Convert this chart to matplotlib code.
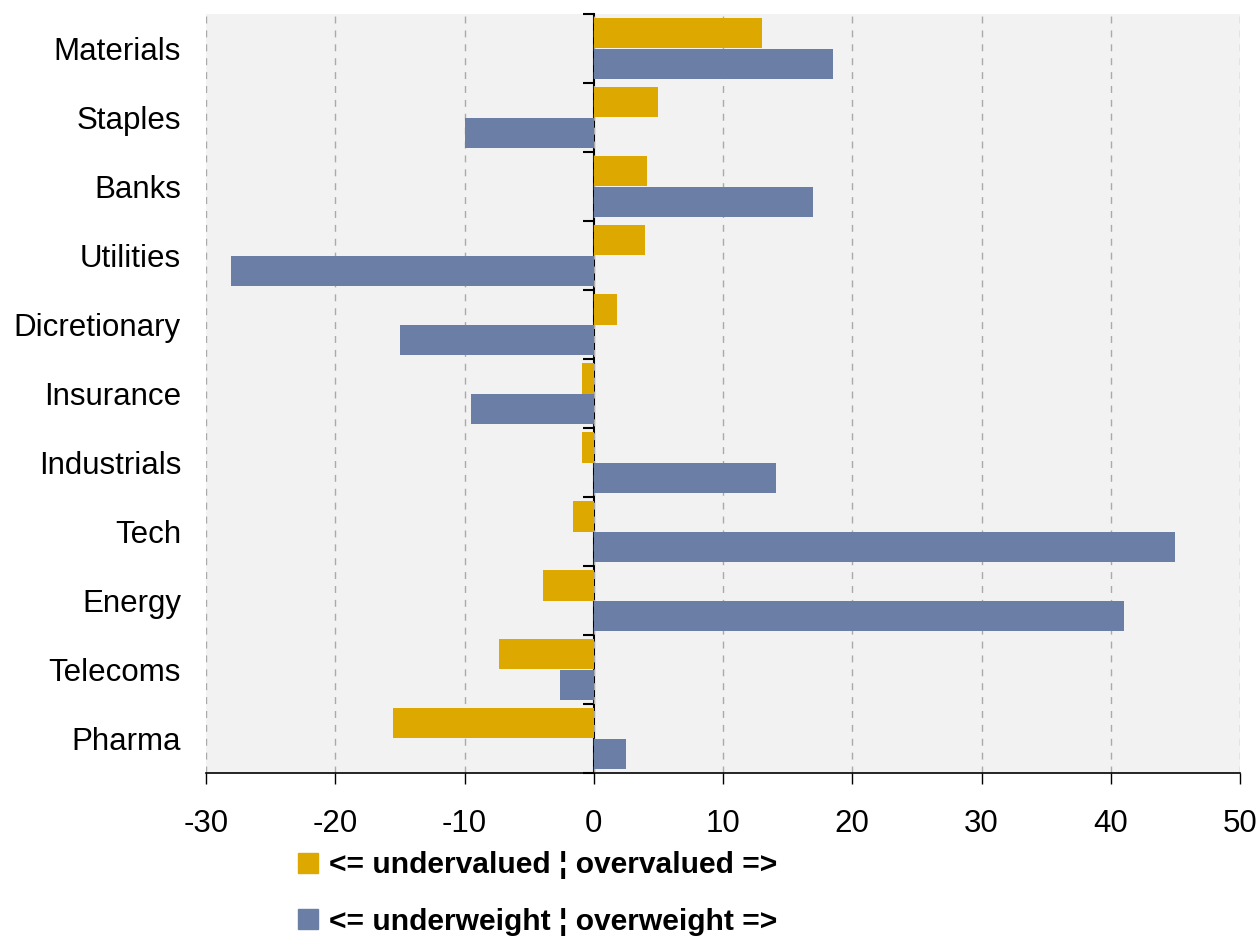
import matplotlib
matplotlib.use("Agg")
import matplotlib.pyplot as plt
from matplotlib.lines import Line2D
import numpy as np

plt.rcParams['font.family'] = ['Liberation Sans', 'DejaVu Sans']

sectors = ['Materials', 'Staples', 'Banks', 'Utilities', 'Dicretionary', 'Insurance',
           'Industrials', 'Tech', 'Energy', 'Telecoms', 'Pharma']
valuation = [13.0, 5.0, 4.1, 4.0, 1.8, -0.9, -0.9, -1.6, -3.9, -7.3, -15.5]
positioning = [18.5, -10.0, 17.0, -28.1, -15.0, -9.5, 14.1, 45.0, 41.0, -2.6, 2.5]
xticks = [-30, -20, -10, 0, 10, 20, 30, 40, 50]

label_val = '<= undervalued \u00a6 overvalued =>'
label_pos = '<= underweight \u00a6 overweight =>'
c_val = '#dda800'
c_pos = '#6b7fa6'

fig = plt.figure(figsize=(12.6, 9.36), dpi=100)
ax = fig.add_axes([206/1260, 1-773/936, (1240-206)/1260, (773-14)/936])
ax.set_facecolor('#f2f2f2')

y = np.arange(len(sectors))
h = 0.44
ax.barh(y - h/2, valuation, height=h, color=c_val, zorder=3)
ax.barh(y + h/2, positioning, height=h, color=c_pos, zorder=3)

ax.set_xlim(-30, 50)
ax.set_ylim(len(sectors) - 0.5, -0.5)
ax.set_xticks(xticks)
ax.set_xticklabels([str(t) for t in xticks], fontsize=22.5)
ax.set_yticks(y)
ax.set_yticklabels(sectors, fontsize=22.5)
ax.tick_params(axis='y', length=0, pad=18)
ax.tick_params(axis='x', direction='out', length=8, width=1, pad=18)
ax.grid(axis='x', color='#aaaaaa', linestyle=(0, (5, 5)), linewidth=1, zorder=0)
for s in ['left', 'right', 'top']:
    ax.spines[s].set_visible(False)
ax.spines['bottom'].set_linewidth(1.2)

# zero line with category separators
zero = ax.secondary_yaxis(30/80)
zero.set_yticks(np.arange(len(sectors) + 1) - 0.5)
zero.set_yticklabels([])
zero.tick_params(length=8, width=1.5, direction='out')
zero.spines['left'].set_linewidth(1.5)

handles = [Line2D([], [], marker='s', linestyle='none', markersize=15, color=c_val),
           Line2D([], [], marker='s', linestyle='none', markersize=15, color=c_pos)]
fig.legend(handles, [label_val, label_pos], loc='upper left',
           bbox_to_anchor=(296/1260, 1-851/936), frameon=False,
           prop={'size': 21.6, 'weight': 'bold'}, handlelength=0.8,
           handletextpad=0.3, labelspacing=0.95, borderpad=0, borderaxespad=0)

fig.savefig('out.png', dpi=100)
